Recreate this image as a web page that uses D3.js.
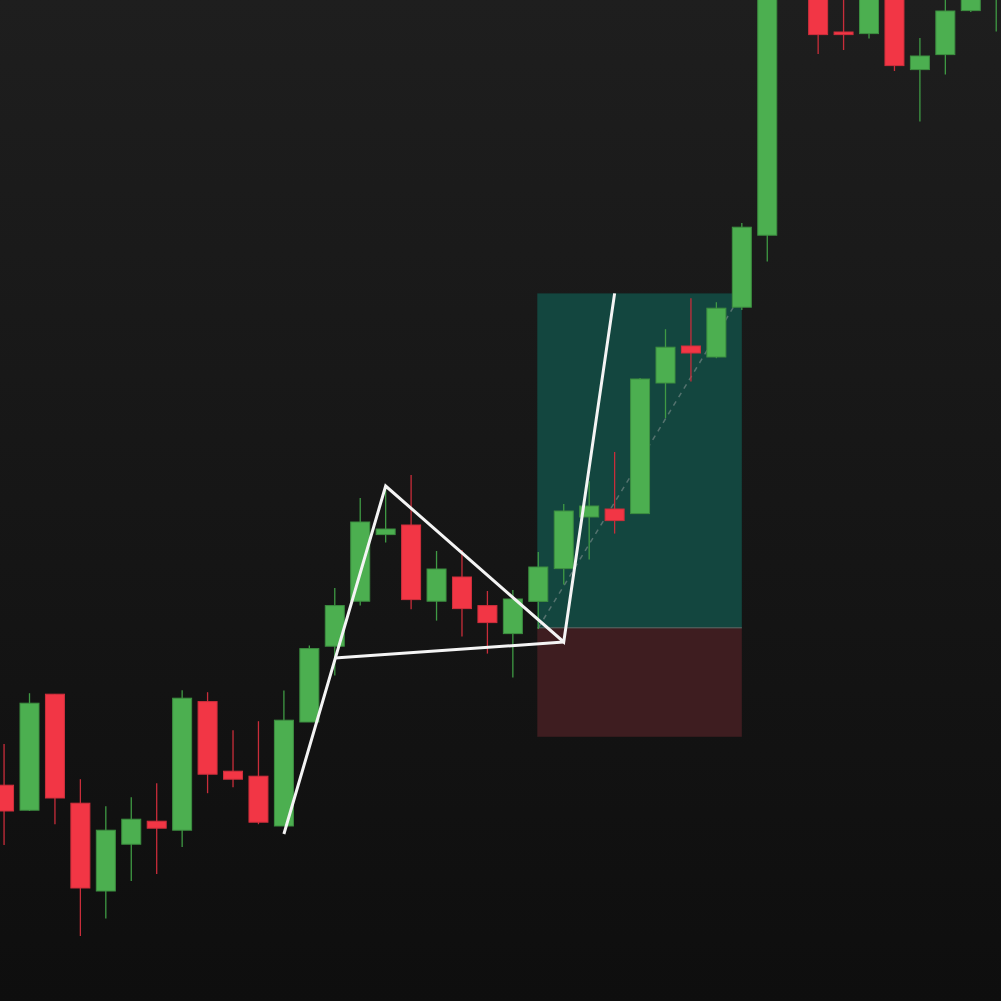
<!DOCTYPE html>
<html>
<head>
<meta charset="utf-8">
<script src="https://cdn.jsdelivr.net/npm/d3@7"></script>
<style>
  html, body { margin: 0; padding: 0; background: #151515; }
  svg { display: block; }
</style>
</head>
<body>
<script>
let width = 1001, height = 1001;

// candle data: index, open, high, low, close
const idx   = d3.range(40);
const open  = [110.74,109.49,115.29,109.84,105.45,107.79,108.94,108.49,114.92,111.44,
               111.19,108.70,113.90,117.69,119.94,123.27,123.75,119.94,121.15,119.72,
               118.32,119.93,121.57,124.15,124.55,124.32,130.85,132.70,132.15,134.64,
               138.24,153.00,154.00,148.40,148.32,152.00,146.52,147.27,149.47,150.25];
const high  = [112.80,115.34,115.30,111.04,109.69,110.14,110.84,115.49,115.39,113.49,
               113.94,115.47,117.72,120.60,125.10,125.70,126.25,122.45,122.50,120.45,
               120.50,122.40,124.80,125.94,127.40,131.10,133.54,135.09,134.89,138.85,
               153.50,156.20,155.00,151.00,152.00,152.50,148.10,150.50,152.00,153.00];
const low   = [107.75,109.45,108.79,103.20,104.07,105.95,106.30,107.65,110.34,110.64,
               108.79,108.70,113.90,116.22,119.72,122.87,119.54,118.97,118.17,117.32,
               116.12,118.55,120.77,122.02,123.32,124.32,129.09,130.92,132.09,134.50,
               136.92,152.40,147.30,147.50,148.07,146.45,143.92,146.27,149.40,148.42];
const close = [109.45,114.84,110.10,105.60,108.49,109.04,108.59,115.09,111.29,111.04,
               108.89,113.99,117.57,119.72,123.90,123.55,120.02,121.55,119.57,118.87,
               120.05,121.65,124.45,124.70,123.97,131.05,132.64,132.35,134.59,138.64,
               153.00,155.50,148.27,148.27,151.50,146.72,147.20,149.45,151.50,152.50];

// long position tool
const posStart = 21, posEnd = 29;
const entry = 118.61, target = 135.33, stop = 113.16;

// drawn pattern (index, price)
const patternPath = [[11,108.30],[15,125.70],[22,117.90],[24,135.33]];
const patternBase = [[13,117.10],[22,117.90]];

const data = idx.map((i) => ({i: i, o: open[i], h: high[i], l: low[i], c: close[i]}));

let x = d3.scaleLinear().domain([0, 39]).range([4.06, 4.06 + 25.44 * 39]);
let y = d3.scaleLinear().domain([100, 150]).range([1000, 0]);
let bodyW = 19;

const svg = d3.select("body")
        .append("svg")
        .attr("width", width)
        .attr("height", height);

let grad = svg.append("defs").append("linearGradient")
        .attr("id", "bg")
        .attr("x1", 0).attr("y1", 0).attr("x2", 0).attr("y2", 1);
grad.append("stop").attr("offset", "0%").attr("stop-color", "#1e1e1e");
grad.append("stop").attr("offset", "100%").attr("stop-color", "#0e0e0e");

svg.append("rect")
        .attr("width", width)
        .attr("height", height)
        .attr("fill", "url(#bg)");

// position boxes
svg.append("rect")
        .attr("x", x(posStart) - 1)
        .attr("y", y(target))
        .attr("width", x(posEnd) - x(posStart) + 1)
        .attr("height", y(entry) - y(target))
        .attr("fill", "#13463f");

svg.append("rect")
        .attr("x", x(posStart) - 1)
        .attr("y", y(entry))
        .attr("width", x(posEnd) - x(posStart) + 1)
        .attr("height", y(stop) - y(entry))
        .attr("fill", "#3e1d20");

svg.append("line")
        .attr("x1", x(posStart) - 1).attr("x2", x(posEnd))
        .attr("y1", y(entry)).attr("y2", y(entry))
        .attr("stroke", "#5f6e6c")
        .attr("stroke-width", 1);

svg.append("line")
        .attr("x1", x(posStart)).attr("y1", y(entry))
        .attr("x2", x(posEnd)).attr("y2", y(target))
        .attr("stroke", "#8a9795")
        .attr("stroke-opacity", 0.55)
        .attr("stroke-width", 1.5)
        .attr("stroke-dasharray", "5,5");

// candles
let up = (d) => d.c >= d.o;

let candles = svg.selectAll(".candle")
        .data(data)
        .enter()
        .append("g")
        .attr("class", "candle");

candles.append("line")
        .attr("x1", (d) => x(d.i))
        .attr("x2", (d) => x(d.i))
        .attr("y1", (d) => y(d.h))
        .attr("y2", (d) => y(d.l))
        .attr("stroke", (d) => up(d) ? "#3f9a44" : "#c92d3a")
        .attr("stroke-width", 1.3);

candles.append("rect")
        .attr("x", (d) => x(d.i) - bodyW / 2)
        .attr("y", (d) => y(Math.max(d.o, d.c)))
        .attr("width", bodyW)
        .attr("height", (d) => Math.max(1, Math.abs(y(d.o) - y(d.c))))
        .attr("fill", (d) => up(d) ? "#4caf50" : "#f23645")
        .attr("stroke", (d) => up(d) ? "#3c8e40" : "#cf2f3c")
        .attr("stroke-width", 1);

// pattern lines
let line = d3.line().x((d) => x(d[0])).y((d) => y(d[1]));

svg.append("path")
        .attr("d", line(patternPath))
        .attr("fill", "none")
        .attr("stroke", "#f4f4f4")
        .attr("stroke-width", 3)
        .attr("stroke-linejoin", "miter");

svg.append("path")
        .attr("d", line(patternBase))
        .attr("fill", "none")
        .attr("stroke", "#f4f4f4")
        .attr("stroke-width", 3);
</script>
</body>
</html>
